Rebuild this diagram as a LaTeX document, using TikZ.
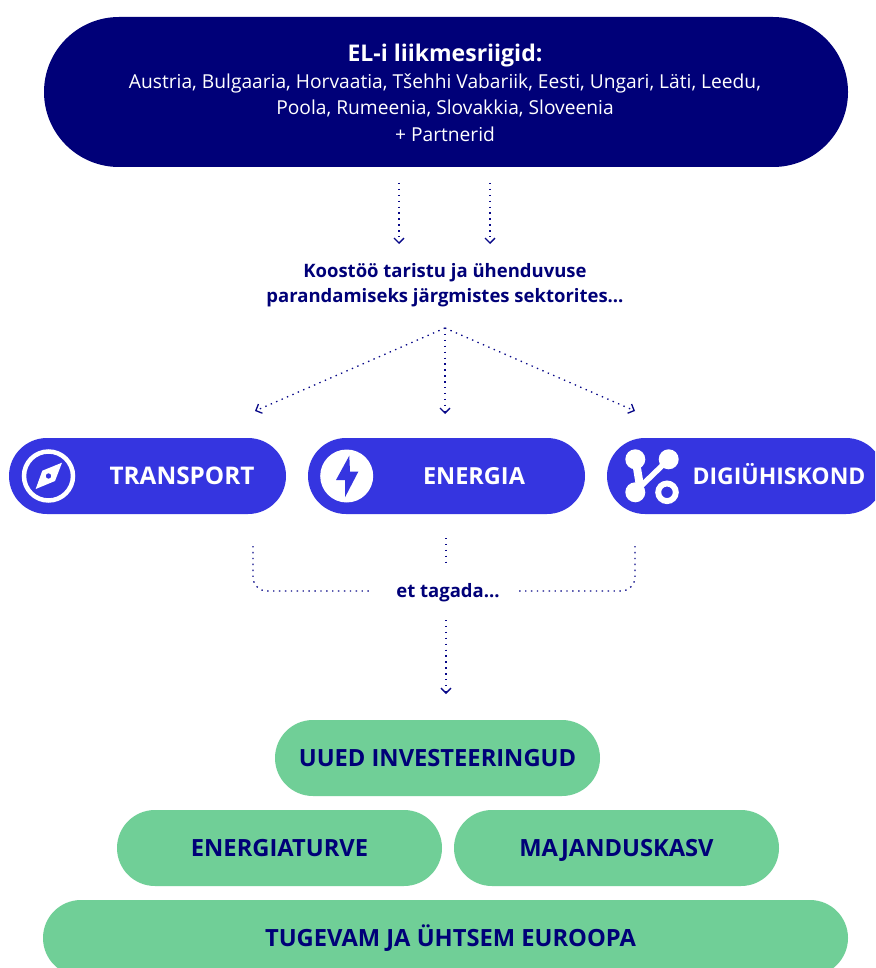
\documentclass[tikz,border=0pt]{standalone}
\usepackage{fontspec}
\setmainfont{Open Sans}
\usetikzlibrary{shapes.misc, arrows.meta}
\definecolor{navycol}{RGB}{0,0,120}
\definecolor{sectorcol}{RGB}{53,53,224}
\definecolor{goalcol}{RGB}{112,207,151}

\begin{document}
\begin{tikzpicture}[
			x=1pt,
			y=-1pt,
			pill/.style={
				rounded rectangle,
				inner sep=0pt,
				minimum height=76pt
			},
			member/.style={
				pill,
				fill=navycol,
				minimum width=804pt,
				minimum height=150pt
			},
			sector/.style={
				pill,
				fill=sectorcol,
				minimum width=277pt
			},
			goal/.style={
				pill,
				fill=goalcol,
				minimum width=325pt,
				text=navycol,
				text height=17pt,
				text depth=0pt,
				font=\fontsize{23.7}{27}\selectfont\bfseries
			},
			sectorlabel/.style={
				text=white,
				text height=17pt,
				text depth=0pt,
				font=\fontsize{23.5}{27}\selectfont\bfseries
			},
			caption/.style={
				align=center,
				text=navycol,
				font=\fontsize{18.5}{25}\selectfont\bfseries
			},
			dotline/.style={
				draw=navycol!85!sectorcol,
				line width=1.3pt,
				dash pattern=on 1.4pt off 4.5pt
			},
			dotarrow/.style={
				dotline,
				-{Straight Barb[length=5pt,width=10pt,line width=1.3pt]}
			}
			]
			\clip (0,0) rectangle (875,968);
			\fill[white] (0,0) rectangle (875,968);
			
			% Member states
			\node[member] (members) at (446,92) {};
			\node[text=white, align=center, font=\fontsize{19.2}{26.6}\selectfont] (memberslabel) at (445,93)
			{{\fontsize{23}{26.6}\selectfont\bfseries EL-i liikmesriigid:}\\
				Austria, Bulgaaria, Horvaatia, Tšehhi Vabariik, Eesti, Ungari, Läti, Leedu,\\
				Poola, Rumeenia, Slovakkia, Sloveenia\\
				+ Partnerid};
			
			% Captions
			\node[caption] (cooperation) at (445,285) {Koostöö taristu ja ühenduvuse\\parandamiseks järgmistes sektorites...};
			\node[caption] (ensure) at (448,593) {et tagada...};
			
			% Sectors
			\node[sector] (transport) at (147.5,476) {};
			\node[sector] (energy) at (446.5,476) {};
			\node[sector] (digital) at (745.5,476) {};
			\node[sectorlabel, font=\fontsize{24.3}{27}\selectfont\bfseries] (transportlabel) at (182,476) {TRANSPORT};
			\node[sectorlabel] (energylabel) at (474,476) {ENERGIA};
			\node[sectorlabel, font=\fontsize{23}{27}\selectfont\bfseries] (digitallabel) at (779,476) {DIGIÜHISKOND};
			
			% Compass icon
			\draw[white, line width=4.5pt] (48.5,476) circle (24.5);
			\fill[white, even odd rule] (62,462.7) -- (55,481) -- (35.7,489) -- (42.3,470.7) -- cycle (48.5,476) circle (2.8);
			
			% Bolt icon
			\fill[white] (346.7,476) circle (26.5);
			\fill[sectorcol] (349.3,455.7) -- (336,480) -- (345,480) -- (345,497.3) -- (358.3,471.7) -- (350,471.7) -- cycle;
			
			% Network icon
			\fill[white] (635.3,459.3) circle (10) (668.7,459.3) circle (10) (635.3,492.3) circle (10);
			\draw[white, line width=8pt] (636,462) -- (640,486);
			\draw[white, line width=5.5pt] (668.7,459.3) -- (638,489);
			\draw[white, line width=5.9pt] (667,492.3) circle (8.8);
			
			% Goals
			\node[goal] (investments) at (437.5,758) {UUED INVESTEERINGUD};
			\node[goal] (security) at (279.5,848) {ENERGIATURVE};
			\node[goal] (growth) at (616.5,848) {MAJANDUSKASV};
			\node[goal, minimum width=805pt] (europe) at (445.5,938) {\hspace{10pt}TUGEVAM JA ÜHTSEM EUROOPA};
			
			% Free ends of the dotted connectors
			\coordinate (topa) at (399,183);
			\coordinate (topb) at (490,183);
			\coordinate (topaend) at (399,244);
			\coordinate (topbend) at (490,244);
			\coordinate (fork) at (445,328);
			\coordinate (forkl) at (255,411);
			\coordinate (forkm) at (445,414);
			\coordinate (forkr) at (635,411);
			\coordinate (joinl) at (253,546);
			\coordinate (joinlend) at (373,591);
			\coordinate (joinm) at (446,538);
			\coordinate (joinmend) at (446,566);
			\coordinate (joinr) at (635,546);
			\coordinate (joinrend) at (517,591);
			\coordinate (out) at (446,620);
			\coordinate (outend) at (446,694);
			
			% Connectors
			\draw[dotarrow] (topa) -- (topaend);
			\draw[dotarrow] (topb) -- (topbend);
			\draw[dotarrow] (fork) -- (forkl);
			\draw[dotarrow] (fork) -- (forkm);
			\draw[dotarrow] (fork) -- (forkr);
			\draw[dotline, rounded corners=14pt] (joinl) |- (joinlend);
			\draw[dotline] (joinm) -- (joinmend);
			\draw[dotline, rounded corners=14pt] (joinr) |- (joinrend);
			\draw[dotarrow] (out) -- (outend);
		\end{tikzpicture}
\end{document}
